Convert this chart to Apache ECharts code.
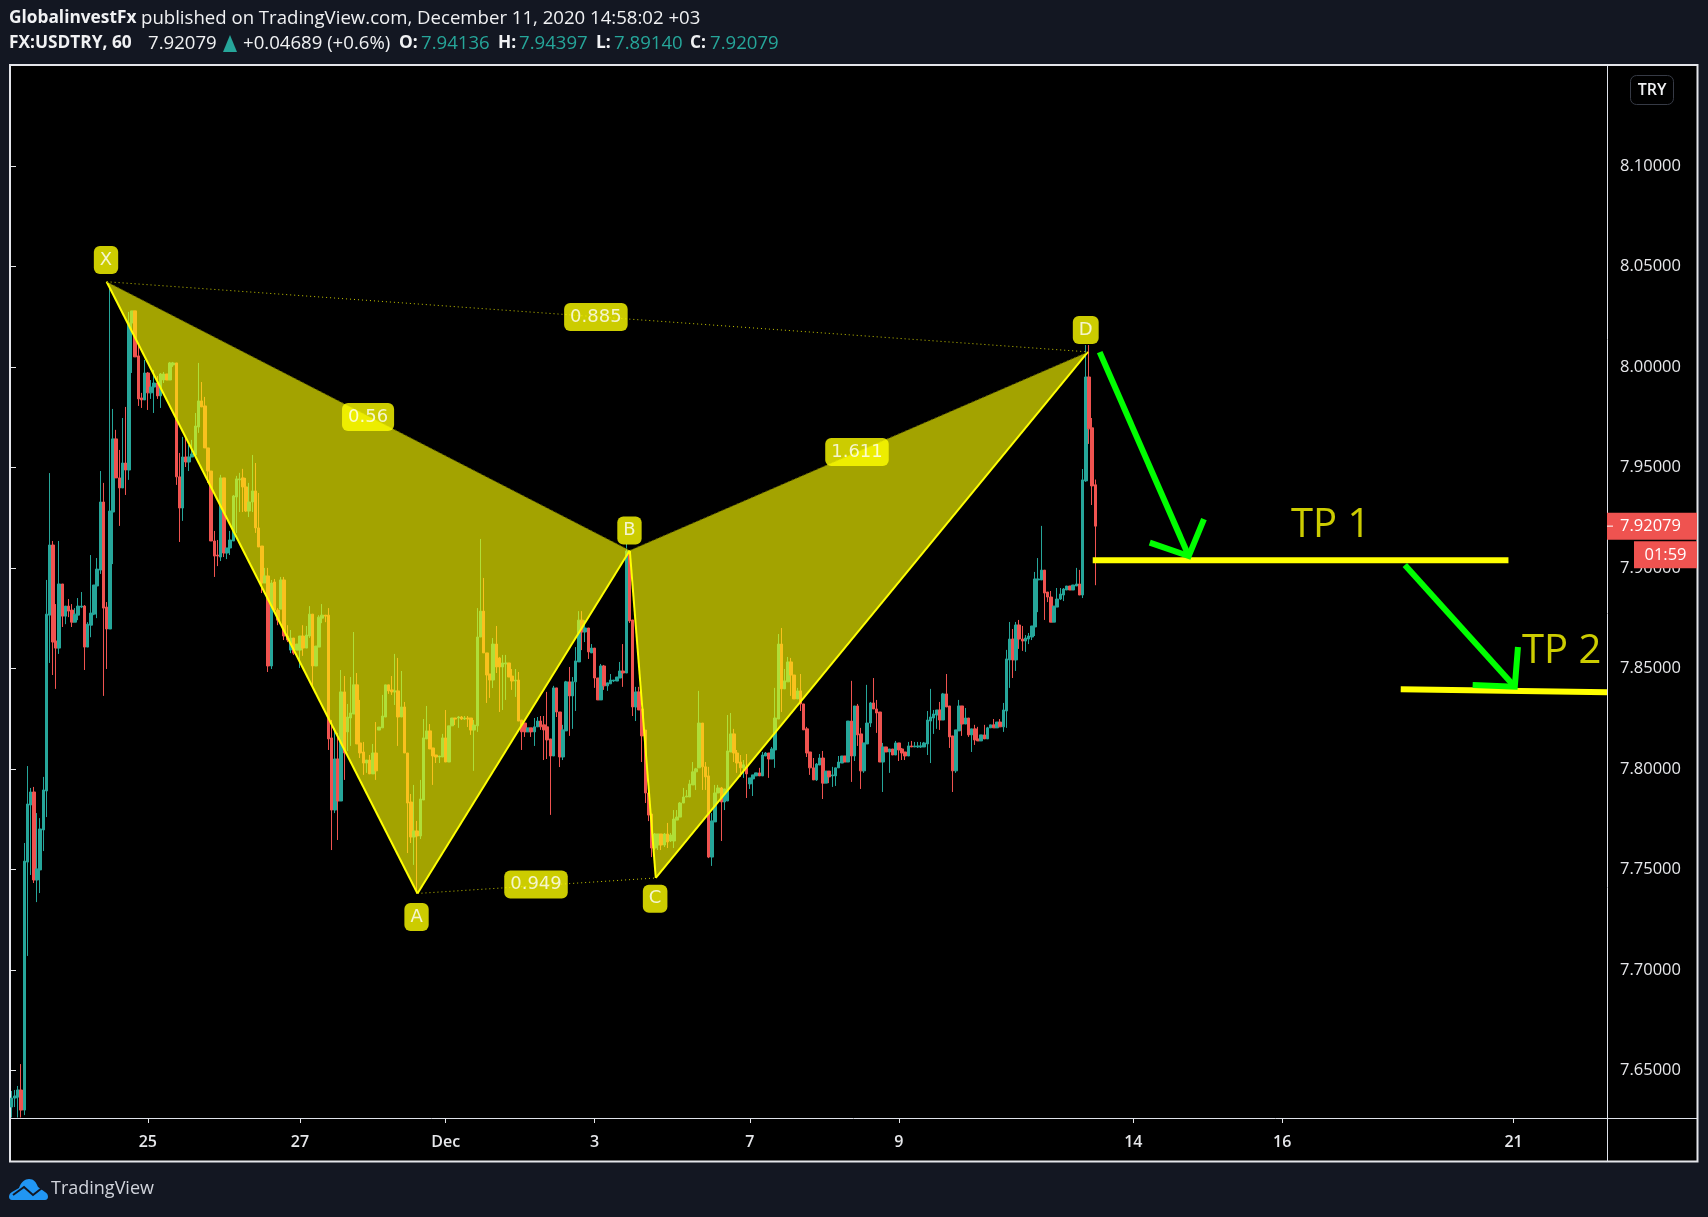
<!DOCTYPE html>
<html><head><meta charset="utf-8"><title>FX:USDTRY</title>
<style>html,body{margin:0;padding:0;background:#131722}#c{width:1708px;height:1217px}</style>
<script src="https://cdn.jsdelivr.net/npm/echarts@6/dist/echarts.min.js"></script></head>
<body><div id="c"></div>
<script>
// ---- values ----
const barCount = 504;
const tickBars = [43, 91, 137, 184, 233, 280, 354, 401, 474];
const tickLabels = ['25', '27', 'Dec', '3', '7', '9', '14', '16', '21'];
const priceTicks = [7.65, 7.70, 7.75, 7.80, 7.85, 7.90, 7.95, 8.00, 8.05, 8.10];
const lastPrice = 7.92079;
const countdown = '01:59';
// hourly candles: open, close, low, high
const candles = [
[7.6317,7.6362,7.6265,7.6397],[7.6362,7.6372,7.6317,7.6402],[7.6367,7.6402,7.6265,7.6422],[7.6402,7.6302,7.6265,7.6531],
[7.6302,7.7541,7.6277,7.7631],[7.7536,7.7825,7.7069,7.8014],[7.782,7.7885,7.7472,7.7905],[7.7885,7.7447,7.7432,7.791],
[7.7447,7.7502,7.7337,7.778],[7.7497,7.7701,7.7382,7.7755],[7.7696,7.7895,7.7591,7.796],[7.789,7.877,7.776,7.894],
[7.8765,7.9114,7.8527,7.9472],[7.9114,7.8631,7.8467,7.9134],[7.8636,7.8601,7.8398,7.882],[7.8601,7.892,7.8572,7.9134],
[7.892,7.876,7.8706,7.892],[7.876,7.881,7.872,7.881],[7.881,7.8785,7.8755,7.8845],[7.879,7.873,7.8706,7.882],
[7.873,7.877,7.873,7.88],[7.8765,7.881,7.874,7.885],[7.8805,7.881,7.88,7.888],[7.881,7.8606,7.8492,7.8815],
[7.8606,7.872,7.8606,7.873],[7.8715,7.8775,7.8655,7.9064],[7.877,7.8915,7.8765,7.8915],[7.891,7.8994,7.875,7.9049],
[7.8989,7.9328,7.897,7.9482],[7.9328,7.88,7.8363,7.9423],[7.8805,7.8696,7.8497,7.883],[7.8696,7.9283,7.8696,8.0393],
[7.9278,7.9642,7.9019,7.9791],[7.9642,7.9448,7.9448,7.9687],[7.9448,7.9398,7.9209,7.9587],[7.9398,7.9522,7.9398,7.9746],
[7.9522,7.9487,7.9363,7.9801],[7.9487,8.0219,7.9438,8.0274],[8.0219,8.0279,7.997,8.0279],[8.0279,8.005,8.005,8.0279],
[8.0055,7.9841,7.9806,8.0109],[7.9846,7.9836,7.9796,7.9871],[7.9836,7.997,7.9836,8.0035],[7.997,7.9871,7.9786,7.9975],
[7.9871,7.99,7.9841,7.9935],[7.99,7.992,7.9771,7.9985],[7.992,7.9856,7.9841,7.9955],[7.9856,7.9965,7.9796,7.997],
[7.9935,7.9965,7.992,7.9975],[7.9965,7.9935,7.9935,7.9965],[7.9935,8.002,7.9935,8.0025],[8.001,8.002,8.0,8.0025],
[8.002,7.9453,7.9413,8.002],[7.9453,7.9298,7.9129,7.9572],[7.9298,7.9552,7.9234,7.9652],[7.9552,7.9527,7.9502,7.9652],
[7.9527,7.9552,7.9482,7.9612],[7.9552,7.9567,7.9552,7.9637],[7.9562,7.9706,7.9562,7.9771],[7.9701,7.9831,7.9672,8.002],
[7.9831,7.9801,7.9801,7.9925],[7.9806,7.9597,7.9597,7.9851],[7.9597,7.9482,7.9423,7.9597],[7.9482,7.9134,7.9134,7.9482],
[7.9134,7.9059,7.8955,7.9184],[7.9064,7.9059,7.9009,7.9139],[7.9054,7.9448,7.9034,7.9463],[7.9448,7.9074,7.9054,7.9448],
[7.9074,7.9099,7.9044,7.9099],[7.9099,7.9139,7.9064,7.9184],[7.9134,7.9358,7.9134,7.9363],[7.9353,7.9443,7.9174,7.9458],
[7.9438,7.9443,7.9278,7.9473],[7.9448,7.9403,7.9278,7.9493],[7.9403,7.9283,7.9278,7.9448],[7.9283,7.9328,7.9253,7.9423],
[7.9328,7.9383,7.9278,7.9562],[7.9383,7.9199,7.9174,7.9522],[7.9199,7.9104,7.9104,7.9373],[7.9109,7.8925,7.8875,7.9109],
[7.8925,7.896,7.8925,7.9],[7.896,7.8512,7.8482,7.9],[7.8512,7.8925,7.8497,7.894],[7.893,7.879,7.879,7.8945],
[7.879,7.874,7.8715,7.88],[7.8795,7.894,7.8795,7.8955],[7.894,7.8661,7.8641,7.8955],[7.8661,7.8641,7.8631,7.8715],
[7.8591,7.8651,7.8576,7.8691],[7.8651,7.8576,7.8567,7.8651],[7.8591,7.8621,7.8591,7.8621],[7.8591,7.8661,7.8502,7.8661],
[7.8661,7.8601,7.8562,7.8715],[7.8601,7.8666,7.8601,7.8711],[7.8661,7.877,7.8651,7.881],[7.877,7.8512,7.8408,7.877],
[7.8512,7.8611,7.8512,7.8611],[7.8606,7.8755,7.8606,7.8765],[7.875,7.8765,7.8725,7.882],[7.8765,7.876,7.873,7.8765],
[7.8765,7.8149,7.8094,7.88],[7.8154,7.7795,7.7596,7.8243],[7.7795,7.8049,7.778,7.8204],[7.8049,7.784,7.7646,7.8179],
[7.784,7.8383,7.784,7.8492],[7.8383,7.8079,7.7945,7.8462],[7.8184,7.8258,7.8089,7.8323],[7.8253,7.8278,7.8114,7.8457],
[7.8273,7.8418,7.8273,7.8681],[7.8418,7.8124,7.8124,7.8477],[7.8129,7.8079,7.8054,7.8343],[7.8084,7.8029,7.797,7.8134],
[7.8029,7.8044,7.798,7.8044],[7.8044,7.7975,7.7975,7.8069],[7.7975,7.8079,7.7975,7.8124],[7.8079,7.799,7.7945,7.8233],
[7.8193,7.8208,7.8193,7.8208],[7.8204,7.8263,7.8204,7.8368],[7.8258,7.8418,7.8258,7.8418],[7.8418,7.8388,7.8373,7.8418],
[7.8393,7.8383,7.8368,7.8462],[7.8383,7.8388,7.8318,7.8572],[7.8388,7.8258,7.8114,7.8552],[7.8258,7.8308,7.8258,7.8487],
[7.8308,7.8079,7.8079,7.8333],[7.8079,7.783,7.7581,7.8079],[7.7835,7.7661,7.7631,7.7875],[7.7661,7.7691,7.7522,7.792],
[7.7691,7.7666,7.738,7.7741],[7.7666,7.785,7.7651,7.7945],[7.7845,7.8154,7.7845,7.8248],[7.8149,7.8189,7.8149,7.8313],
[7.8189,7.8099,7.8099,7.8223],[7.8104,7.8064,7.792,7.8104],[7.8069,7.8059,7.8029,7.8069],[7.8059,7.8064,7.8029,7.8064],
[7.8059,7.8154,7.8059,7.8174],[7.8154,7.8034,7.8034,7.8293],[7.8034,7.8214,7.8034,7.8214],[7.8214,7.8253,7.8214,7.8253],
[7.8253,7.8248,7.8218,7.8253],[7.8253,7.8258,7.8204,7.8263],[7.8258,7.8248,7.8243,7.8263],[7.8248,7.8253,7.8243,7.8263],
[7.8253,7.8248,7.8208,7.8263],[7.8253,7.8193,7.8169,7.8253],[7.8193,7.8218,7.799,7.8243],[7.8214,7.8656,7.8184,7.88],
[7.8656,7.8785,7.8656,7.9144],[7.8785,7.8577,7.8577,7.895],[7.8577,7.8467,7.8328,7.8577],[7.8472,7.8442,7.8353,7.8472],
[7.8442,7.8621,7.8402,7.8651],[7.8621,7.8507,7.8477,7.8711],[7.8552,7.8507,7.8283,7.8557],[7.8507,7.8527,7.8293,7.8567],
[7.8522,7.8527,7.8343,7.8567],[7.8527,7.8457,7.8457,7.8527],[7.8462,7.8437,7.8393,7.8497],[7.8437,7.8442,7.8358,7.8497],
[7.8442,7.8238,7.8238,7.8482],[7.8243,7.8184,7.8094,7.8243],[7.8228,7.8184,7.8159,7.8228],[7.8184,7.8204,7.8184,7.8204],
[7.8204,7.8184,7.8159,7.8204],[7.8184,7.8209,7.8114,7.8253],[7.8209,7.8238,7.8209,7.8258],[7.8238,7.8209,7.8194,7.8263],
[7.8219,7.8194,7.8044,7.8263],[7.8209,7.8144,7.8049,7.8383],[7.8149,7.8064,7.7771,7.8149],[7.8064,7.8403,7.8064,7.8413],
[7.8403,7.8283,7.8258,7.8403],[7.8283,7.8059,7.8009,7.8283],[7.8059,7.8194,7.8044,7.8219],[7.8189,7.8433,7.8189,7.8438],
[7.8433,7.8363,7.8164,7.8507],[7.8363,7.8433,7.8199,7.8457],[7.8433,7.8537,7.8288,7.8606],[7.8532,7.874,7.8532,7.8785],
[7.874,7.8681,7.8591,7.8785],[7.8681,7.8701,7.8631,7.874],[7.8701,7.8582,7.8547,7.8701],[7.8577,7.8601,7.8577,7.8621],
[7.8601,7.8452,7.8403,7.8601],[7.8452,7.8343,7.8343,7.8452],[7.8343,7.8512,7.8343,7.8522],[7.8512,7.8413,7.8393,7.8517],
[7.8413,7.8428,7.8388,7.8428],[7.8423,7.8442,7.8423,7.8472],[7.8437,7.8442,7.8432,7.8442],[7.8437,7.8457,7.8437,7.8457],
[7.8452,7.8487,7.8452,7.8532],[7.8487,7.8477,7.8408,7.8621],[7.8477,7.9084,7.8477,7.9119],[7.9084,7.8736,7.8726,7.9089],
[7.8741,7.8308,7.8263,7.8741],[7.8308,7.8383,7.8238,7.8408],[7.8383,7.8293,7.8293,7.8408],[7.8298,7.8164,7.8034,7.8298],
[7.8193,7.788,7.783,7.8193],[7.788,7.777,7.774,7.788],[7.7775,7.7606,7.7561,7.7775],[7.7606,7.7676,7.7596,7.7681],
[7.7621,7.7676,7.7596,7.7676],[7.7676,7.7621,7.7596,7.7676],[7.7621,7.7676,7.7611,7.7681],[7.7676,7.7636,7.7606,7.7731],
[7.7641,7.7671,7.7636,7.7681],[7.7641,7.775,7.7606,7.7795],[7.7745,7.776,7.7745,7.7795],[7.776,7.783,7.776,7.7835],
[7.783,7.786,7.783,7.7905],[7.786,7.7865,7.786,7.7895],[7.786,7.7925,7.786,7.7945],[7.792,7.7985,7.792,7.8034],
[7.7985,7.8,7.7895,7.8005],[7.8005,7.8228,7.8005,7.8388],[7.8228,7.801,7.7895,7.8228],[7.801,7.796,7.7895,7.8034],
[7.7965,7.7561,7.7556,7.801],[7.7561,7.7741,7.7517,7.778],[7.7736,7.788,7.7736,7.792],[7.788,7.7905,7.788,7.792],
[7.7905,7.7835,7.7641,7.791],[7.7835,7.79,7.7795,7.79],[7.784,7.8089,7.784,7.8268],[7.8084,7.8174,7.8084,7.8278],
[7.8174,7.8079,7.8034,7.8199],[7.8079,7.8029,7.798,7.8094],[7.8034,7.8005,7.796,7.8069],[7.8005,7.802,7.7955,7.8044],
[7.801,7.7975,7.7855,7.8074],[7.7925,7.7955,7.79,7.7955],[7.795,7.797,7.7865,7.797],[7.7965,7.798,7.7965,7.798],
[7.798,7.7965,7.7965,7.8005],[7.7965,7.8069,7.7965,7.8084],[7.8064,7.8079,7.8064,7.8084],[7.8079,7.8049,7.7955,7.8079],
[7.8049,7.8099,7.8049,7.8109],[7.8094,7.8253,7.8005,7.8403],[7.8248,7.8621,7.8248,7.8671],[7.8621,7.8398,7.8283,7.8701],
[7.8398,7.8438,7.8398,7.8497],[7.8433,7.8532,7.8433,7.8557],[7.8532,7.8467,7.8363,7.8552],[7.8467,7.8348,7.8348,7.8467],
[7.8348,7.8388,7.8348,7.8403],[7.8388,7.8323,7.8288,7.8472],[7.8323,7.8194,7.8194,7.8323],[7.8199,7.8079,7.8059,7.8209],
[7.8084,7.8005,7.797,7.8084],[7.8005,7.7945,7.7945,7.8054],[7.7945,7.8024,7.794,7.8029],[7.8019,7.8054,7.8019,7.8074],
[7.8054,7.7929,7.785,7.8089],[7.7929,7.7989,7.7929,7.7989],[7.7989,7.796,7.7929,7.7989],[7.7965,7.797,7.791,7.801],
[7.7965,7.8005,7.7915,7.8005],[7.8005,7.8034,7.8005,7.8064],[7.8029,7.8064,7.8029,7.8064],[7.8064,7.8034,7.8034,7.8064],
[7.8034,7.8238,7.8034,7.8238],[7.8238,7.8064,7.7935,7.8438],[7.8064,7.8313,7.8039,7.8313],[7.8313,7.8169,7.8114,7.8323],
[7.8174,7.799,7.79,7.8204],[7.799,7.8129,7.798,7.8129],[7.8124,7.8228,7.8124,7.8418],[7.8228,7.8328,7.8208,7.8333],
[7.8328,7.8298,7.8298,7.8452],[7.8298,7.8278,7.8179,7.8343],[7.8283,7.8034,7.8034,7.8283],[7.8034,7.8109,7.7885,7.8129],
[7.8109,7.8084,7.8084,7.8109],[7.8084,7.8099,7.798,7.8099],[7.8099,7.8069,7.8069,7.8099],[7.8069,7.8129,7.8069,7.8139],
[7.8129,7.8094,7.8039,7.8129],[7.8099,7.8079,7.8044,7.8104],[7.8084,7.8064,7.8044,7.8084],[7.8064,7.8114,7.8064,7.8134],
[7.8114,7.8109,7.8109,7.8139],[7.8109,7.8114,7.8109,7.8134],[7.8109,7.8114,7.8104,7.8134],[7.8109,7.8114,7.8104,7.8134],
[7.8109,7.8129,7.8109,7.8134],[7.8124,7.8243,7.8069,7.8288],[7.8238,7.8258,7.8029,7.8398],[7.8253,7.8273,7.8174,7.8293],
[7.8268,7.8293,7.8199,7.8293],[7.8293,7.8243,7.8194,7.8333],[7.8243,7.8373,7.8243,7.8378],[7.8373,7.8308,7.8308,7.8472],
[7.8313,7.8159,7.8104,7.8313],[7.8164,7.799,7.7885,7.8164],[7.799,7.8194,7.798,7.8194],[7.8189,7.8313,7.8189,7.8343],
[7.8313,7.8223,7.8164,7.8313],[7.8223,7.8253,7.8223,7.8303],[7.8253,7.8169,7.8159,7.8253],[7.8169,7.8199,7.8084,7.8199],
[7.8199,7.8144,7.8119,7.8219],[7.8149,7.8139,7.8139,7.8209],[7.8139,7.8169,7.8139,7.8169],[7.8169,7.8149,7.8149,7.8219],
[7.8149,7.8204,7.8149,7.8209],[7.8204,7.8219,7.8204,7.8219],[7.8219,7.8204,7.8204,7.8248],[7.8204,7.8233,7.8204,7.8233],
[7.8233,7.8209,7.8209,7.8248],[7.8209,7.8293,7.8184,7.8328],[7.8288,7.8547,7.8204,7.8592],[7.8542,7.8646,7.8403,7.8731],
[7.8646,7.8542,7.8452,7.8696],[7.8542,7.8716,7.8487,7.8731],[7.8716,7.8646,7.8597,7.8741],[7.8646,7.8636,7.8587,7.8711],
[7.8636,7.8651,7.8582,7.8666],[7.8646,7.8661,7.8621,7.8676],[7.8656,7.8711,7.8641,7.8711],[7.8706,7.8945,7.8661,7.898],
[7.894,7.8945,7.878,7.9049],[7.894,7.8989,7.894,7.9209],[7.8989,7.8875,7.8741,7.8989],[7.888,7.8855,7.883,7.888],
[7.8855,7.873,7.873,7.8885],[7.873,7.881,7.873,7.881],[7.8805,7.8845,7.8805,7.89],[7.8845,7.887,7.884,7.89],
[7.8865,7.8895,7.8835,7.89],[7.889,7.891,7.889,7.891],[7.891,7.889,7.889,7.891],[7.889,7.8915,7.889,7.8915],
[7.891,7.892,7.891,7.9],[7.892,7.8865,7.8865,7.899],[7.8865,7.9438,7.885,7.9492],[7.9433,7.995,7.9428,8.0109],
[7.995,7.9692,7.9617,8.0109],[7.9697,7.9408,7.9313,7.9746],[7.94136,7.92079,7.8914,7.94397]
];
// harmonic pattern pivots X, A, B, C, D (bar position, price)
const pivotNames = ['X', 'A', 'B', 'C', 'D'];
const pivotBars = [30.5, 128.6, 195.6, 203.8, 340.2];
const pivotPrices = [8.0424, 7.738, 7.9087, 7.7457, 8.0075];
// label tags: bar position, price, text
const tagRows = [
  [30.3, 8.0532, 'X'], [128.3, 7.7263, 'A'], [195.5, 7.9186, 'B'], [203.6, 7.7354, 'C'], [339.5, 8.0184, 'D'],
  [113, 7.9751, '0.56'], [267.3, 7.9577, '1.611'], [184.9, 8.0249, '0.885'], [166, 7.7425, '0.949']
];
const tpLines = [
  [[341.7, 7.9038], [472.9, 7.9038]],
  [[438.9, 7.8396], [504, 7.8381]]
];
const tpTexts = [[416.8, 7.9209, 'TP 1'], [489.7, 7.8582, 'TP 2']];
const arrowShafts = [
  [[343.9, 8.0074], [372.0, 7.9059]],
  [[440.2, 7.9015], [474.9, 7.8409]]
];
const arrowHeads = [
  [[359.7, 7.9126], [372.0, 7.9059], [376.8, 7.9243]],
  [[461.6, 7.8417], [474.9, 7.8409], [475.9, 7.8606]]
];
// ---------------------------------------

const UP = '#26a69a', DOWN = '#ef5350', YEL = '#ffff00', GREEN = '#00ff00';
const FONT = '"Open Sans", sans-serif';
const LABEL = '#e6e7ea';
const categories = Array.from({length: barCount}, (_, i) => {
  const k = tickBars.indexOf(i);
  return k >= 0 ? tickLabels[k] : '';
});
const isTick = (i, v) => v !== '';

const P = i => [pivotBars[i], pivotPrices[i]];
const lineSeries = (pts, color, width, type) => ({
  type: 'line', xAxisIndex: 1, yAxisIndex: 0, data: pts, symbol: 'none', silent: true, z: 6,
  lineStyle: {color, width, type: type || 'solid', join: 'miter', cap: 'butt', opacity: 1},
  animation: false
});

const series = [
  { type: 'candlestick', data: candles, barWidth: 3, z: 2, silent: true, large: false, progressive: 0,
    itemStyle: {color: UP, color0: DOWN, borderColor: UP, borderColor0: DOWN, borderWidth: 1} },
  { type: 'custom', xAxisIndex: 1, yAxisIndex: 0, z: 4, silent: true,
    data: [[0, 1, 2], [2, 3, 4]],
    renderItem: (params, api) => ({
      type: 'polygon',
      shape: {points: [api.value(0), api.value(1), api.value(2)].map(i => api.coord(P(i)))},
      style: {fill: 'rgba(255,255,0,0.64)', stroke: null}
    })
  },
  lineSeries([P(0), P(1)], YEL, 2),
  lineSeries([P(1), P(2)], YEL, 2),
  lineSeries([P(2), P(3)], YEL, 2),
  lineSeries([P(3), P(4)], YEL, 2),
  lineSeries([P(0), P(2)], 'rgba(90,90,0,1)', 1, [2, 2]),
  lineSeries([P(2), P(4)], 'rgba(90,90,0,1)', 1, [2, 2]),
  lineSeries([P(0), P(4)], 'rgba(220,220,0,0.9)', 1, [1, 3]),
  lineSeries([P(1), P(3)], 'rgba(220,220,0,0.9)', 1, [1, 3]),
  ...tpLines.map(l => lineSeries(l, YEL, 6)),
  ...arrowShafts.map(l => lineSeries(l, GREEN, 6)),
  ...arrowHeads.map(l => lineSeries(l, GREEN, 6)),
  { type: 'scatter', xAxisIndex: 1, yAxisIndex: 0, z: 8, silent: true, symbolSize: 0, data: tagRows,
    label: {show: true, position: 'inside', formatter: p => p.value[2], color: '#fff',
      fontFamily: '"DejaVu Sans"', fontSize: 18, backgroundColor: YEL, borderRadius: 6, padding: [5, 6, 5, 6]} },
  { type: 'scatter', xAxisIndex: 1, yAxisIndex: 0, z: 8, silent: true, symbolSize: 0, data: tpTexts,
    label: {show: true, position: 'inside', formatter: p => p.value[2], color: YEL,
      fontFamily: FONT, fontSize: 40} },
  { type: 'custom', xAxisIndex: 1, yAxisIndex: 0, z: 9, silent: true, clip: false, data: [[barCount, lastPrice]],
    renderItem: (params, api) => {
      const pt = api.coord([api.value(0), api.value(1)]);
      const x = pt[0], y = pt[1];
      return {type: 'group', children: [
        {type: 'rect', shape: {x: x, y: y - 13.5, width: 90, height: 27}, style: {fill: DOWN}},
        {type: 'rect', shape: {x: x + 27, y: y + 15, width: 63, height: 27}, style: {fill: DOWN}},
        {type: 'line', shape: {x1: x, y1: y, x2: x + 6, y2: y}, style: {stroke: '#fff', lineWidth: 1}},
        {type: 'text', style: {x: x + 13, y: y, text: lastPrice.toFixed(5), fill: '#fff', font: '16.5px ' + FONT, textVerticalAlign: 'middle'}},
        {type: 'text', style: {x: x + 58.5, y: y + 29, text: countdown, fill: '#fff', font: '16.5px ' + FONT, textAlign: 'center', textVerticalAlign: 'middle'}}
      ]};
    }
  },
  { type: 'custom', coordinateSystem: 'none', z: 9, silent: true, clip: false, data: [[0]],
    renderItem: () => ({type: 'group', children: [
      {type: 'path', shape: {pathData: 'M3 21C-1 21 -1 15 3 13L10 9C12 3 16 0 20 0C25 0 27 3 29 8L36 13C40 15 40 21 36 21Z', x: 9, y: 1179, width: 39, height: 21}, style: {fill: '#2196f3'}},
      {type: 'polyline', shape: {points: [[13, 1195], [24, 1187], [33, 1195], [42, 1188]]}, style: {stroke: '#131722', lineWidth: 2, fill: null}}
    ]})
  }
];

const head = (x, y, text, color, weight) => ({
  type: 'text', x, y, z: 10,
  style: {text, fill: color, font: (weight ? 'bold 17.3px ' : '18.6px ') + FONT, textVerticalAlign: 'middle'}
});
const HY1 = 18.5, HY2 = 43.5, TEAL = '#26a69a', W = '#f0f1f3';

const option = {
  animation: false,
  backgroundColor: '#131722',
  grid: {left: 10, top: 66, width: 1597, height: 1052, containLabel: false},
  xAxis: [
    { type: 'category', data: categories, position: 'bottom',
      axisLine: {show: false},
      axisTick: {show: true, interval: isTick, length: 5, alignWithLabel: true, lineStyle: {color: LABEL, width: 1}},
      axisLabel: {show: true, interval: isTick, color: LABEL, fontFamily: FONT, fontSize: 16, fontWeight: 600, margin: 16, hideOverlap: false},
      splitLine: {show: false} },
    { type: 'value', min: 0, max: barCount, show: false, splitLine: {show: false} }
  ],
  yAxis: [
    { type: 'value', position: 'right', min: 7.62626, max: 8.14976, scale: true,
      axisLine: {show: false},
      axisTick: {show: true, length: 6, customValues: priceTicks, lineStyle: {color: LABEL, width: 1}},
      axisLabel: {show: true, color: LABEL, fontFamily: FONT, fontSize: 16.5, margin: 13, customValues: priceTicks, formatter: v => v.toFixed(5)},
      splitLine: {show: false} }
  ],
  series,
  graphic: {elements: [
    {type: 'rect', z: -10, shape: {x: 10, y: 65, width: 1687.5, height: 1096.5}, style: {fill: '#000', stroke: '#e4e5ea', lineWidth: 2}},
    {type: 'line', z: 1, shape: {x1: 1607.5, y1: 65, x2: 1607.5, y2: 1162}, style: {stroke: '#dfe2ea', lineWidth: 1}},
    {type: 'line', z: 1, shape: {x1: 10, y1: 1118.5, x2: 1697, y2: 1118.5}, style: {stroke: '#dfe2ea', lineWidth: 1}},
    {type: 'rect', z: 1, shape: {x: 1630.5, y: 75.5, width: 43, height: 29, r: 6}, style: {fill: '#000', stroke: '#363a45', lineWidth: 1}},
    {type: 'text', z: 2, x: 1652, y: 90, style: {text: 'TRY', fill: '#f0f1f3', font: '600 16px ' + FONT, textAlign: 'center', textVerticalAlign: 'middle'}},
    head(9, HY1, 'GlobalinvestFx', W, 'bold'),
    head(141, HY1, 'published on TradingView.com, December 11, 2020 14:58:02 +03', W),
    head(9, HY2, 'FX:USDTRY, 60', W, 'bold'),
    head(148, HY2, '7.92079', W),
    {type: 'polygon', z: 10, shape: {points: [[223, 52], [230, 35], [237, 52]]}, style: {fill: TEAL}},
    head(243, HY2, '+0.04689 (+0.6%)', W),
    head(399, HY2, 'O:', W, 'bold'), head(421, HY2, '7.94136', TEAL),
    head(498, HY2, 'H:', W, 'bold'), head(519, HY2, '7.94397', TEAL),
    head(596, HY2, 'L:', W, 'bold'), head(614, HY2, '7.89140', TEAL),
    head(690, HY2, 'C:', W, 'bold'), head(710, HY2, '7.92079', TEAL),
    {type: 'text', z: 10, x: 51, y: 1189, style: {text: 'TradingView', fill: '#d1d4dc', font: '18px ' + FONT, textVerticalAlign: 'middle'}}
  ]}
};
const chart = echarts.init(document.getElementById('c'), null, {renderer: 'canvas', width: 1708, height: 1217});
chart.setOption(option);
</script></body></html>
